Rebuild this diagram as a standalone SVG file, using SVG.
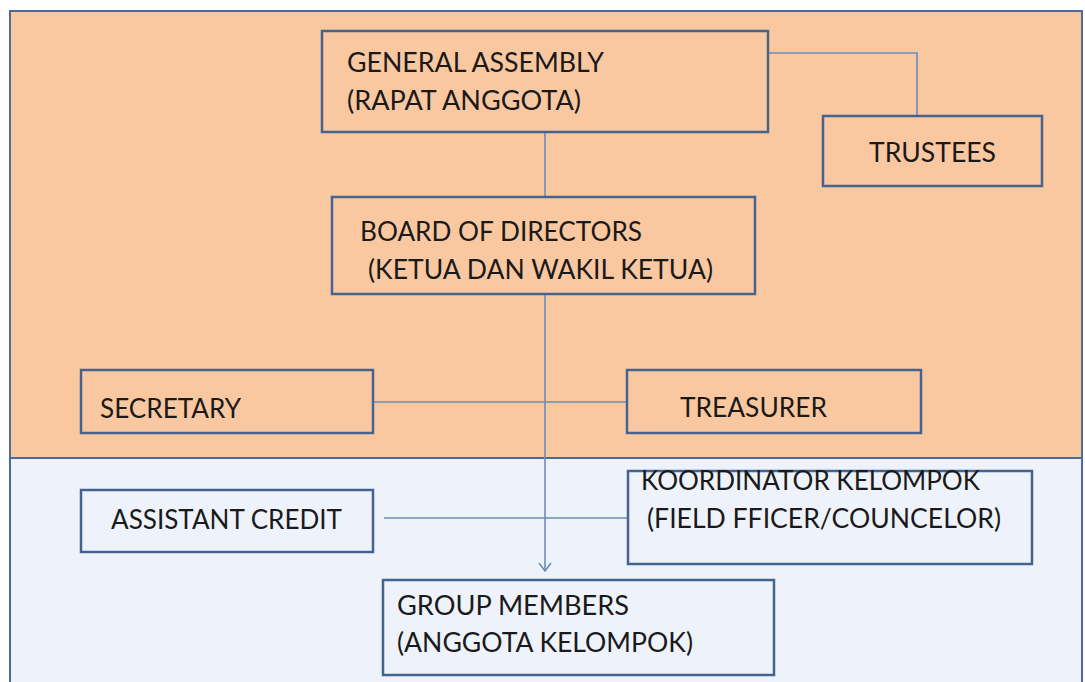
<svg xmlns="http://www.w3.org/2000/svg" width="1085" height="682" viewBox="0 0 1085 682">
  <defs>
    <style>
      .box { stroke: #44638f; stroke-width: 2.5; }
      .peach { fill: #fac8a0; }
      .blue { fill: #eef3fb; }
      .conn { stroke: #6d8cbc; stroke-width: 1.6; fill: none; }
      .t { font-family: Lato, "Open Sans", "Liberation Sans", sans-serif; font-size: 26px; fill: #1a1a1a; }
    </style>
    <marker id="arrow" viewBox="0 0 12 14" refX="11" refY="7" markerWidth="12" markerHeight="14" markerUnits="userSpaceOnUse" orient="auto">
      <path d="M3,1 L11,7 L3,13" fill="none" stroke="#6d8cbc" stroke-width="1.6"/>
    </marker>
  </defs>

  <rect x="0" y="0" width="1085" height="682" fill="#ffffff"/>
  <g id="background">
    <rect x="10" y="11" width="1072" height="447" fill="#fac8a0"/>
    <rect x="10" y="458" width="1072" height="230" fill="#eef3fb"/>
    <rect x="10" y="11" width="1072" height="680" fill="none" stroke="#4d6b97" stroke-width="2"/>
    <line x1="10" y1="458" x2="1082" y2="458" stroke="#4d6b97" stroke-width="2"/>
  </g>

  <g id="connectors">
    <polyline class="conn" points="768,53 917,53 917,116"/>
    <line class="conn" x1="545" y1="132" x2="545" y2="197"/>
    <line class="conn" x1="545" y1="294" x2="545" y2="571" marker-end="url(#arrow)"/>
    <line class="conn" x1="373" y1="402" x2="627" y2="402"/>
    <line class="conn" x1="384" y1="518" x2="628" y2="518"/>
  </g>

  <g id="general-assembly">
    <rect class="box peach" x="322" y="31" width="446" height="101"/>
    <text class="t" x="347" y="72" textLength="257" lengthAdjust="spacingAndGlyphs">GENERAL ASSEMBLY</text>
    <text class="t" x="347" y="110" textLength="234" lengthAdjust="spacingAndGlyphs">(RAPAT ANGGOTA)</text>
  </g>

  <g id="trustees">
    <rect class="box peach" x="823" y="116" width="219" height="70"/>
    <text class="t" x="869" y="162" textLength="127" lengthAdjust="spacingAndGlyphs">TRUSTEES</text>
  </g>

  <g id="board-of-directors">
    <rect class="box peach" x="332" y="197" width="423" height="97"/>
    <text class="t" x="360" y="241" textLength="282" lengthAdjust="spacingAndGlyphs">BOARD OF DIRECTORS</text>
    <text class="t" x="368" y="279" textLength="345" lengthAdjust="spacingAndGlyphs">(KETUA DAN WAKIL KETUA)</text>
  </g>

  <g id="secretary">
    <rect class="box peach" x="81" y="370" width="292" height="63"/>
    <text class="t" x="100" y="418" textLength="141" lengthAdjust="spacingAndGlyphs">SECRETARY</text>
  </g>

  <g id="treasurer">
    <rect class="box peach" x="627" y="370" width="294" height="63"/>
    <text class="t" x="680" y="417" textLength="147" lengthAdjust="spacingAndGlyphs">TREASURER</text>
  </g>

  <g id="assistant-credit">
    <rect class="box blue" x="81" y="490" width="292" height="62"/>
    <text class="t" x="111" y="529" textLength="231" lengthAdjust="spacingAndGlyphs">ASSISTANT CREDIT</text>
  </g>

  <g id="koordinator-kelompok">
    <rect class="box blue" x="628" y="471" width="404" height="93"/>
    <text class="t" x="641" y="490" textLength="339" lengthAdjust="spacingAndGlyphs">KOORDINATOR KELOMPOK</text>
    <text class="t" x="647" y="528" textLength="354" lengthAdjust="spacingAndGlyphs">(FIELD FFICER/COUNCELOR)</text>
  </g>

  <g id="group-members">
    <rect class="box blue" x="383" y="580" width="391" height="95"/>
    <text class="t" x="397" y="615" textLength="232" lengthAdjust="spacingAndGlyphs">GROUP MEMBERS</text>
    <text class="t" x="397" y="652" textLength="296" lengthAdjust="spacingAndGlyphs">(ANGGOTA KELOMPOK)</text>
  </g>
</svg>
